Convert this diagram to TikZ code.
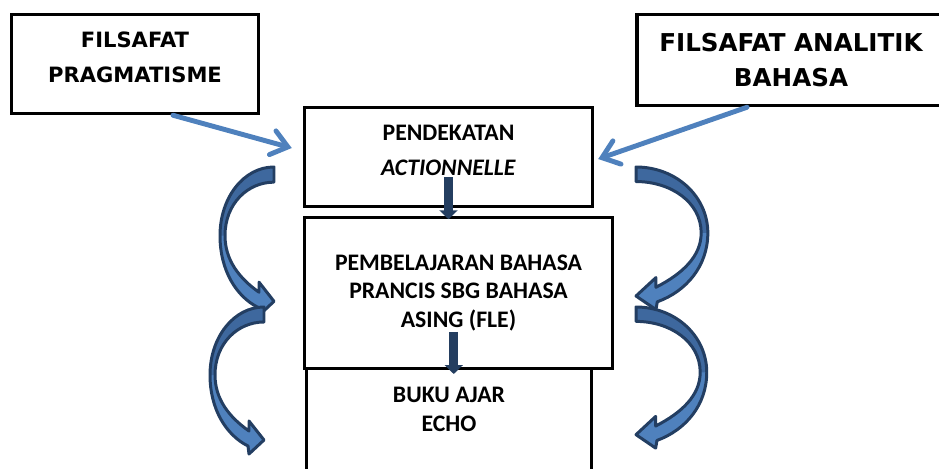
\documentclass[tikz,border=0pt]{standalone}
\usepackage{fontspec}
\newfontfamily\verafont{DejaVu Sans}
\newfontfamily\carlfont{Carlito}
\usetikzlibrary{arrows.meta,calc}
\definecolor{ofblue}{RGB}{79,129,189}
\definecolor{ofback}{RGB}{62,104,158}
\definecolor{ofnavy}{RGB}{35,62,98}
\definecolor{stemnavy}{RGB}{36,62,96}

\begin{document}
\begin{tikzpicture}
  [x=0.02cm,y=-0.02cm,
   box/.style={draw,line width=2pt,rectangle,align=center,inner sep=0pt},
   vera/.style={font=\verafont\bfseries\fontsize{#1}{20}\selectfont},
   carl/.style={font=\carlfont\bfseries\fontsize{13.5}{#1}\selectfont},
   thin arrow/.style={ofblue,line width=2.8pt,line cap=round,
     -{Straight Barb[length=9pt,width=14pt,line cap=round]}},
   stem/.style={stemnavy,line width=5pt,-{Triangle[width=10pt,length=5pt]}},
   bend/.pic={
     \fill[ofblue]
       (0,0) .. controls (-30,0) and (-54,30) .. (-54,68)
       .. controls (-54,102) and (-38,128) .. (-16,139)
       -- (-15,147) -- (0,133) -- (-15,114) -- (-15,124)
       .. controls (-35,110) and (-49,92) .. (-49,68)
       .. controls (-49,36) and (-26,15) .. (0,15) -- cycle;
     \fill[ofback]
       (0,0) .. controls (-30,0) and (-54,30) .. (-54,68)
       -- (-49,68) .. controls (-49,36) and (-26,15) .. (0,15) -- cycle;
     \draw[ofnavy,line width=1.7pt,line join=round]
       (0,0) .. controls (-30,0) and (-54,30) .. (-54,68)
       .. controls (-54,102) and (-38,128) .. (-16,139)
       -- (-15,147) -- (0,133) -- (-15,114) -- (-15,124)
       .. controls (-35,110) and (-49,92) .. (-49,68)
       .. controls (-49,36) and (-26,15) .. (0,15) -- cycle;}]
  \clip (0,0) rectangle (939,469);

  \node[box,vera=12,minimum width=4.94cm,minimum height=1.98cm,text depth=8pt]
    (prag) at (135,64) {FILSAFAT\\PRAGMATISME};
  \node[box,vera=14,minimum width=6.16cm,minimum height=1.82cm]
    (anal) at (791,60) {FILSAFAT ANALITIK\\BAHASA};
  \node[box,carl=20,minimum width=5.76cm,minimum height=1.98cm,text depth=8pt]
    (pend) at (448.5,157) {PENDEKATAN\\\textit{ACTIONNELLE}};
  \node[box,carl=16,minimum width=6.16cm,minimum height=3.02cm]
    (pemb) at (458.5,293) {PEMBELAJARAN BAHASA\\PRANCIS SBG BAHASA\\ASING (FLE)};
  \node[box,carl=16.5,minimum width=5.70cm,minimum height=2.6cm,text depth=28pt]
    (buku) at (449,433.5) {BUKU AJAR\\ECHO};

  % garis masuk ke pendekatan
  \draw[thin arrow] ($(prag.south)+(38,0)$) -- ($(pend.west)+(-11,-9)$);
  \draw[thin arrow] ($(anal.south)+(-44,0)$) -- ($(pend.east)+(4,2)$);

  \draw[stem] ($(pend.south |- pemb.north)+(0,-38.5)$) -- ($(pend.south |- pemb.north)+(0,3.5)$);
  \draw[stem] ($(pemb.south)!.5!(buku.north)+(0,-36.5)$) -- ($(pemb.south)!.5!(buku.north)+(0,5.5)$);

  \foreach \px/\py/\sx/\sy in {274/167/1/1.01,264/307/1/1,636/167/-1.33/.97,636/307/-1.31/.96}
    \pic[xscale=\sx,yscale=\sy] at (\px,\py) {bend};
\end{tikzpicture}
\end{document}
